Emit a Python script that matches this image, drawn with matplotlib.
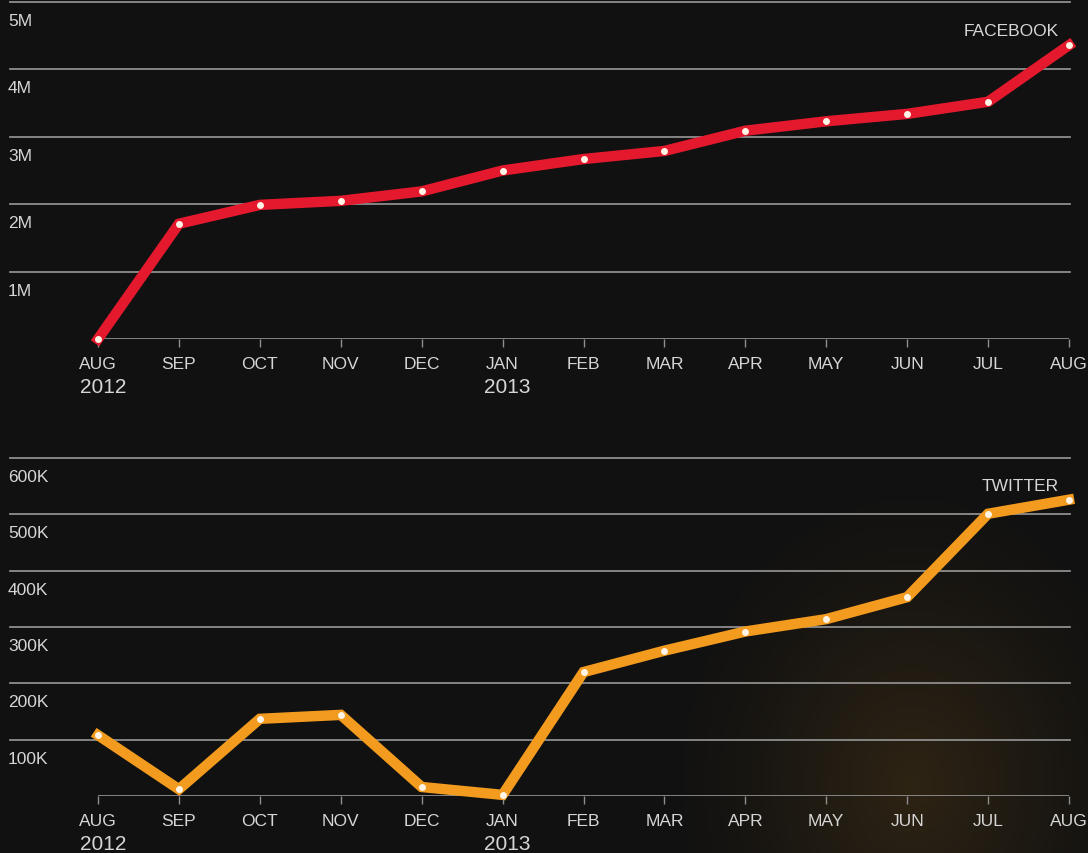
"""
    Facebook / Twitter growth, Aug 2012 - Aug 2013
"""
import numpy as np
import matplotlib.pyplot as plt

plt.rcParams['font.family'] = ['Liberation Sans', 'DejaVu Sans']

months = ["AUG", "SEP", "OCT", "NOV", "DEC", "JAN", "FEB", "MAR", "APR", "MAY", "JUN", "JUL", "AUG"]
years = {0: "2012", 5: "2013"}

facebook = [0.0, 1.71, 1.99, 2.05, 2.19, 2.50, 2.67, 2.79, 3.09, 3.23, 3.34, 3.52, 4.36]  # millions
fb_ticks = [1, 2, 3, 4, 5]
fb_labels = ["1M", "2M", "3M", "4M", "5M"]

twitter = [108, 12, 137, 144, 16, 2, 220, 258, 292, 314, 353, 501, 526]  # thousands
tw_ticks = [100, 200, 300, 400, 500, 600]
tw_labels = ["100K", "200K", "300K", "400K", "500K", "600K"]

bg = "#111111"
grid = "#8e8e8e"
txt = "#d6d6d6"

fig = plt.figure(figsize=(10.88, 8.54), dpi=100, facecolor=bg)

# warm glow in lower right corner
glow = fig.add_axes([0, 0, 1, 1], zorder=-10)
gx, gy = np.meshgrid(np.linspace(0, 1, 300), np.linspace(0, 1, 240))
d = np.sqrt(((gx - 0.84) / 0.24) ** 2 + ((gy - 0.08) / 0.38) ** 2)
a = np.clip(1 - d, 0, 1) ** 1.4 * 0.28
img = np.zeros(gx.shape + (3,))
base = np.array([0x11, 0x11, 0x11]) / 255
warm = np.array([0x7a, 0x55, 0x1c]) / 255
for c in range(3):
    img[..., c] = base[c] * (1 - a) + warm[c] * a
glow.imshow(img, origin="lower", extent=[0, 1, 0, 1], aspect="auto")
glow.axis("off")

step = (1069 - 98) / 12.0
xl = (-88 / step, 12 + 1 / step)
x = list(range(len(months)))


def panel(rect, vals, ticks, labels, top, color, name):
    ax = fig.add_axes(rect)
    ax.set_facecolor("none")
    ax.set_xlim(*xl)
    ax.set_ylim(0, top)
    for s in ax.spines.values():
        s.set_visible(False)
    for t, lab in zip(ticks, labels):
        ax.axhline(t, color=grid, lw=1.3, zorder=1, clip_on=False)
        ax.annotate(lab, (xl[0], t), xytext=(-2, -11), textcoords="offset pixels",
                    ha="left", va="top", color=txt, fontsize=12.5)
    ax.hlines(0, 0, 12, color=grid, lw=1.3, zorder=1)
    ax.set_yticks([])
    ax.set_xticks(x)
    ax.set_xticklabels(months, color=txt, fontsize=12.5)
    ax.tick_params(axis="x", length=6, width=1, color=grid, pad=6)
    for i, y in years.items():
        ax.annotate(y, (i, 0), xytext=(5, -38), textcoords="offset pixels",
                    ha="center", va="top", color=txt, fontsize=15)
    ax.plot(x, vals, color=color, lw=7.5, solid_joinstyle="miter", zorder=3, clip_on=False)
    ax.plot(x, vals, "o", color="#fff4e6", ms=5, mec="none", zorder=4, clip_on=False)
    ax.annotate(name, (12, top), xytext=(-10, -28), textcoords="offset pixels",
                ha="right", va="center", color=txt, fontsize=12.5)
    return ax


panel([10 / 1088, (854 - 340) / 854, 1060 / 1088, 337 / 854],
      facebook, fb_ticks, fb_labels, 5, "#e5192e", "FACEBOOK")
panel([10 / 1088, (854 - 797) / 854, 1060 / 1088, 338 / 854],
      twitter, tw_ticks, tw_labels, 600, "#f39b1e", "TWITTER")

plt.savefig("out.png", dpi=100, facecolor=bg)
